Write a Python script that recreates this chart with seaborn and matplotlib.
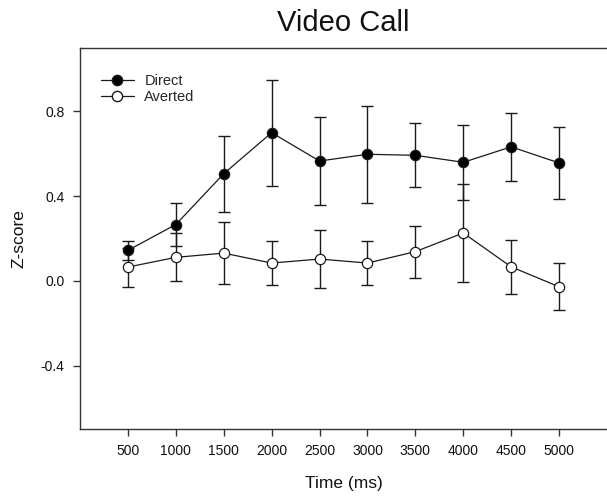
import matplotlib
matplotlib.use("Agg")
import matplotlib.pyplot as plt
import seaborn as sns
import pandas as pd
from matplotlib.lines import Line2D

# Mean z-scores (± error) over time for each gaze condition
time_ms = [500, 1000, 1500, 2000, 2500, 3000, 3500, 4000, 4500, 5000]
direct_mean = [0.144, 0.266, 0.506, 0.700, 0.566, 0.598, 0.593, 0.560, 0.633, 0.557]
direct_err = [0.045, 0.100, 0.179, 0.250, 0.206, 0.229, 0.152, 0.177, 0.161, 0.169]
averted_mean = [0.065, 0.111, 0.131, 0.084, 0.103, 0.084, 0.138, 0.226, 0.066, -0.028]
averted_err = [0.092, 0.114, 0.146, 0.102, 0.139, 0.104, 0.123, 0.233, 0.127, 0.112]
y_ticks = [-0.4, 0.0, 0.4, 0.8]

sns.set_style("ticks")
plt.rcParams["font.family"] = ["Liberation Sans", "DejaVu Sans"]

df = pd.DataFrame({
    "time": time_ms * 2,
    "z": direct_mean + averted_mean,
    "err": direct_err + averted_err,
    "gaze": ["Direct"] * len(time_ms) + ["Averted"] * len(time_ms),
})

ink = "#1a1a1a"
fig = plt.figure(figsize=(6.07, 4.96), dpi=100)
ax = fig.add_axes([80 / 607, 67 / 496, 527 / 607, 381 / 496])

# error bars underneath the markers
for g in ["Averted", "Direct"]:
    sub = df[df["gaze"] == g]
    ax.errorbar(sub["time"], sub["z"], yerr=sub["err"], fmt="none",
                ecolor=ink, elinewidth=1.0, capsize=4.2, capthick=1.0, zorder=2)

sns.lineplot(data=df, x="time", y="z", hue="gaze", style="gaze",
             hue_order=["Direct", "Averted"],
             palette={"Direct": ink, "Averted": ink},
             markers={"Direct": "o", "Averted": "o"},
             dashes={"Direct": "", "Averted": ""},
             linewidth=0.9, markersize=7.4, ax=ax, zorder=3, legend=False)

# face colours: filled for direct gaze, open for averted
lines = ax.get_lines()
for ln, face in zip(lines[-2:], ["black", "white"]):
    ln.set_markerfacecolor(face)
    ln.set_markeredgecolor(ink)
    ln.set_markeredgewidth(0.9)
    ln.set_zorder(4)

handles = [
    Line2D([], [], color=ink, lw=0.9, marker="o", markersize=7.4,
           markerfacecolor="black", markeredgecolor=ink),
    Line2D([], [], color=ink, lw=0.9, marker="o", markersize=7.4,
           markerfacecolor="white", markeredgecolor=ink),
]
ax.legend(handles, ["Direct", "Averted"], loc="upper left",
          bbox_to_anchor=(0.039, 0.931), frameon=False, fontsize=10.5,
          handlelength=2.3, handletextpad=0.7, labelspacing=0.15,
          borderaxespad=0, borderpad=0)

ax.set_xlim(0, 5500)
ax.set_ylim(-0.7, 1.1)
ax.set_xticks(time_ms)
ax.set_xticklabels([str(t) for t in time_ms])
ax.set_yticks(y_ticks)
ax.set_yticklabels([f"{v:.1f}" for v in y_ticks])

for side in ["left", "bottom", "top"]:
    ax.spines[side].set_visible(True)
    ax.spines[side].set_color("#333333")
    ax.spines[side].set_linewidth(1.0)
ax.spines["right"].set_visible(False)

ax.tick_params(axis="both", direction="out", length=5, width=1.0,
               color="#333333", labelsize=10, labelcolor="#111111", pad=6)

ax.set_xlabel("Time (ms)", fontsize=12.5, labelpad=13, color="#111111")
ax.set_ylabel("Z-score", fontsize=12.5, labelpad=10, color="#111111")
ax.set_title("Video Call", fontsize=21, pad=12, color="#111111")

fig.savefig("out.png", dpi=100)
